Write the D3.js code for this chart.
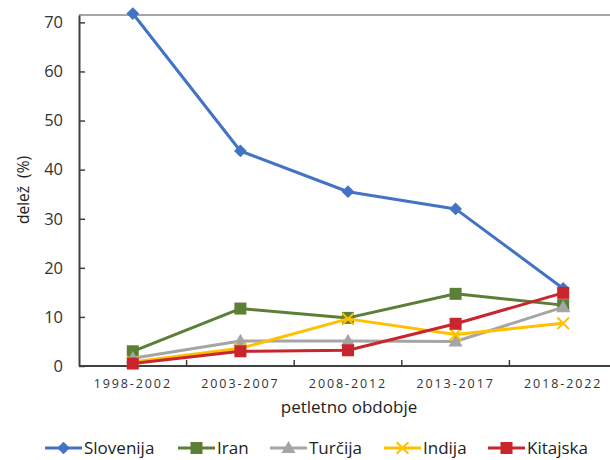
<!DOCTYPE html>
<html>
<head>
<meta charset="utf-8">
<script src="https://cdn.jsdelivr.net/npm/d3@7"></script>
<style>
  html, body { margin: 0; padding: 0; background: #fff; }
  svg { display: block; font-family: "Open Sans", "Noto Sans", sans-serif; }
</style>
</head>
<body>
<svg id="chart" width="610" height="460"></svg>
<script>
// Five-year periods and the share (%) for each country
const periods = ["1998-2002", "2003-2007", "2008-2012", "2013-2017", "2018-2022"];
const slovenija = [71.8, 43.8, 35.5, 32.0, 15.8];
const iran      = [3.0, 11.7, 9.8, 14.7, 12.4];
const turcija   = [1.6, 5.1, 5.1, 5.0, 12.0];
const indija    = [0.8, 3.6, 9.6, 6.4, 8.7];
const kitajska  = [0.5, 3.0, 3.2, 8.6, 14.9];
const yTicks = [0, 10, 20, 30, 40, 50, 60, 70];

const series = [
  { name: "Slovenija", values: slovenija, color: "#4472C4", marker: "diamond" },
  { name: "Iran",      values: iran,      color: "#5B7F36", marker: "square" },
  { name: "Turčija",   values: turcija,   color: "#A5A5A5", marker: "triangle" },
  { name: "Indija",    values: indija,    color: "#FFC000", marker: "cross" },
  { name: "Kitajska",  values: kitajska,  color: "#C8252C", marker: "square" }
];

const svg = d3.select("#chart");
const plotLeft = 79, plotRight = 617, plotTop = 15, plotBottom = 366;

const x = d3.scaleBand().domain(periods).range([plotLeft, plotRight]);
const y = d3.scaleLinear().domain([0, 71.5]).range([plotBottom, plotTop]);

// top border of the plot area
svg.append("line")
  .attr("x1", plotLeft).attr("x2", 610)
  .attr("y1", plotTop).attr("y2", plotTop)
  .attr("stroke", "#a6a6a6").attr("stroke-width", 2);

// y axis
const yAxis = svg.append("g")
  .attr("transform", `translate(${plotLeft},0)`)
  .call(d3.axisLeft(y).tickValues(yTicks).tickSizeInner(-6).tickSizeOuter(0).tickPadding(16));
yAxis.select(".domain").attr("stroke", "#404040").attr("stroke-width", 2);
yAxis.selectAll(".tick line").attr("stroke", "#404040").attr("stroke-width", 1.5);
yAxis.selectAll(".tick text")
  .attr("font-size", 16.5).attr("fill", "#333")
  .attr("font-family", "'Open Sans', sans-serif");

// x axis with ticks at band boundaries
const xAxis = svg.append("g")
  .attr("transform", `translate(0,${plotBottom})`);
xAxis.append("line")
  .attr("x1", plotLeft).attr("x2", 610)
  .attr("y1", 0).attr("y2", 0)
  .attr("stroke", "#404040").attr("stroke-width", 2);
const bounds = periods.slice(1).map(p => x(p));
xAxis.selectAll("line.tk").data(bounds).enter().append("line")
  .attr("class", "tk")
  .attr("x1", d => d).attr("x2", d => d)
  .attr("y1", 0).attr("y2", -6)
  .attr("stroke", "#404040").attr("stroke-width", 1.5);
xAxis.selectAll("text").data(periods).enter().append("text")
  .attr("x", d => x(d) + x.bandwidth() / 2)
  .attr("y", 22)
  .attr("text-anchor", "middle")
  .attr("font-size", 12.5)
  .attr("letter-spacing", "1.9px")
  .attr("fill", "#333")
  .text(d => d);

// axis titles
svg.append("text")
  .attr("x", 349).attr("y", 413)
  .attr("text-anchor", "middle")
  .attr("font-size", 17).attr("fill", "#222")
  .text("petletno obdobje");
svg.append("text")
  .attr("transform", "translate(29,190) rotate(-90)")
  .attr("text-anchor", "middle")
  .attr("font-size", 15.5).attr("fill", "#222")
  .attr("xml:space", "preserve")
  .text("delež  (%)");

const cx = d => x(d) + x.bandwidth() / 2;
const line = d3.line().x((d, i) => cx(periods[i])).y(d => y(d));

function drawMarker(g, type, color, px, py) {
  if (type === "diamond") {
    g.append("rect")
      .attr("x", -4.5).attr("y", -4.5)
      .attr("width", 9).attr("height", 9)
      .attr("transform", `translate(${px},${py}) rotate(45)`)
      .attr("fill", color);
  } else if (type === "square") {
    g.append("rect")
      .attr("x", px - 6).attr("y", py - 6)
      .attr("width", 12).attr("height", 12)
      .attr("fill", color);
  } else if (type === "triangle") {
    g.append("path")
      .attr("d", d3.symbol(d3.symbolTriangle, 85)())
      .attr("transform", `translate(${px},${py + 1})`)
      .attr("fill", color);
  } else if (type === "cross") {
    g.append("path")
      .attr("d", d3.symbol(d3.symbolX, 90)())
      .attr("transform", `translate(${px},${py})`)
      .attr("fill", "none").attr("stroke", color).attr("stroke-width", 2);
  }
}

// one line plus markers per country
const plot = svg.append("g");
series.forEach(s => {
  plot.append("path")
    .datum(s.values)
    .attr("d", line)
    .attr("fill", "none")
    .attr("stroke", s.color)
    .attr("stroke-width", 3)
    .attr("stroke-linejoin", "round");
  const mg = plot.append("g");
  s.values.forEach((v, i) => drawMarker(mg, s.marker, s.color, cx(periods[i]), y(v)));
});

// legend
const legendX = [45, 178, 270, 384, 488];
const legend = svg.append("g").attr("transform", "translate(0,448)");
series.forEach((s, i) => {
  const g = legend.append("g").attr("transform", `translate(${legendX[i]},0)`);
  g.append("line")
    .attr("x1", 0).attr("x2", 37).attr("y1", 0).attr("y2", 0)
    .attr("stroke", s.color).attr("stroke-width", 3);
  drawMarker(g, s.marker, s.color, 18.5, 0);
  g.append("text")
    .attr("x", 39).attr("y", 6)
    .attr("font-size", 17).attr("fill", "#222")
    .text(s.name);
});
</script>
</body>
</html>
